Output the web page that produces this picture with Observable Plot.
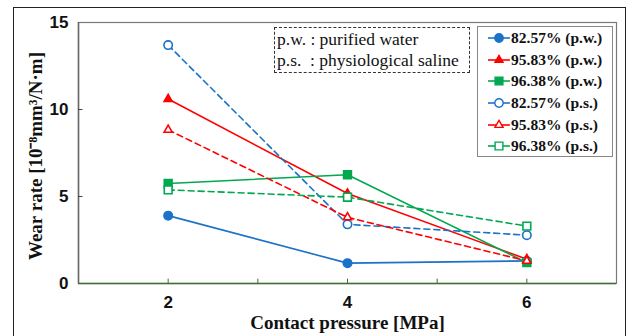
<!DOCTYPE html>
<html>
<head>
<meta charset="utf-8">
<script src="https://cdn.jsdelivr.net/npm/d3@7"></script>
<script src="https://cdn.jsdelivr.net/npm/@observablehq/plot@0.6"></script>
<style>
  body { margin: 0; background: #fff; }
</style>
</head>
<body>
<div id="wrap" style="position:relative;width:632px;height:336px;overflow:hidden;"></div>
<script>
// ---- data ----
const pressures = [2, 4, 6];
const seriesNames = ["82.57% (p.w.)", "95.83% (p.w.)", "96.38% (p.w.)", "82.57% (p.s.)", "95.83% (p.s.)", "96.38% (p.s.)"];
const pw8257 = [3.9, 1.17, 1.3];
const pw9583 = [10.6, 5.17, 1.4];
const pw9638 = [5.75, 6.25, 1.2];
const ps8257 = [13.7, 3.4, 2.78];
const ps9583 = [8.83, 3.8, 1.3];
const ps9638 = [5.38, 4.96, 3.3];
const yTicks = [0, 5, 10, 15];
const xTicks = [2, 4, 6];
const xMinor = [2, 3, 4, 5, 6];
const noteLines = ["p.w. : purified water", "p.s.\u00a0\u00a0: physiological saline"];

// ---- styles ----
const SERIF = "'Liberation Serif', 'Times New Roman', serif";
const SANS = "'Liberation Sans', Arial, sans-serif";
const colors = ["#1a72c9", "#ff0000", "#00a84f", "#1a72c9", "#ff0000", "#00a84f"];
const symbols = ["circle", "triangle", "square", "circle", "triangle", "square"];
const radius = {circle: 4.2, triangle: 3.0, square: 4.4};
const filled = [true, true, true, false, false, false];
const dashed = [false, false, false, true, true, true];
const valuesList = [pw8257, pw9583, pw9638, ps8257, ps9583, ps9638];

const rows = [];
seriesNames.forEach((s, i) => pressures.forEach((p, j) => rows.push({series: s, idx: i, x: p, y: valuesList[i][j]})));

const marks = [
  Plot.frame({stroke: "#7a7a7a", strokeWidth: 1.2}),
  Plot.ruleY([0], {stroke: "#3f6e35", strokeWidth: 1.5}),
  Plot.ruleX([1], {stroke: "#666", strokeWidth: 1.5}),
  Plot.ruleY(yTicks.slice(1, -1), {x1: 1, x2: 1.05, stroke: "#444"}),
  Plot.ruleX(xMinor, {y1: 0, y2: 0.25, stroke: "#3f6e35"}),
  Plot.axisY(yTicks, {tickSize: 0, tickPadding: 10, fontSize: 17, fontWeight: "bold", fontFamily: SANS, fill: "#111", label: null}),
  Plot.axisX(xTicks, {tickSize: 0, tickPadding: 12, fontSize: 17, fontWeight: "bold", fontFamily: SANS, fill: "#111", label: null}),
  Plot.text(["Contact pressure [MPa]"], {frameAnchor: "bottom", dy: 39, lineAnchor: "middle", textAnchor: "middle", fontSize: 19, fontWeight: "bold", fontFamily: SERIF, fill: "#111"}),
  Plot.text(["Wear rate [10\u207B\u2078mm\u00B3/N\u00B7m]"], {frameAnchor: "left", dx: -43, dy: 3, rotate: -90, textAnchor: "middle", lineAnchor: "middle", fontSize: 19, fontWeight: "bold", fontFamily: SERIF, fill: "#111"})
];
seriesNames.forEach((s, i) => {
  const d = rows.filter(r => r.idx === i);
  marks.push(Plot.line(d, {x: "x", y: "y", stroke: colors[i], strokeWidth: 1.6, strokeDasharray: dashed[i] ? "6,4" : null}));
});
seriesNames.forEach((s, i) => {
  const d = rows.filter(r => r.idx === i);
  marks.push(Plot.dot(d, {x: "x", y: "y", symbol: symbols[i], r: radius[symbols[i]],
    fill: filled[i] ? colors[i] : "#fff", stroke: colors[i], strokeWidth: 1.6}));
});

const chart = Plot.plot({
  width: 632, height: 336,
  marginLeft: 78, marginRight: 16, marginTop: 22, marginBottom: 53,
  x: {domain: [1, 7], axis: null},
  y: {domain: [0, 15], axis: null},
  style: {background: "#fff", overflow: "visible"},
  marks
});
const wrap = document.getElementById("wrap");
wrap.appendChild(chart);

const outer = document.createElement("div");
outer.style.cssText = "position:absolute;left:13px;top:7px;width:611px;height:340px;border:1.5px solid #222;pointer-events:none;";
wrap.appendChild(outer);

const note = document.createElement("div");
note.style.cssText = `position:absolute;left:274px;top:27px;width:196px;height:46px;border:1px dashed #333;background:#fff;font-family:${SERIF};font-size:17.5px;line-height:21px;padding:1px 0 0 2px;box-sizing:border-box;white-space:nowrap;color:#111;`;
note.innerHTML = noteLines.map(t => `<div>${t}</div>`).join("");
wrap.appendChild(note);

const legend = document.createElement("div");
legend.style.cssText = `position:absolute;left:477px;top:26px;width:136px;height:131px;border:1.5px solid #888;background:#fff;box-sizing:border-box;font-family:${SERIF};font-weight:bold;font-size:15.5px;padding-top:0px;color:#111;`;
const symPath = {circle: d3.symbolCircle, triangle: d3.symbolTriangle, square: d3.symbolSquare};
seriesNames.forEach((s, i) => {
  const r = radius[symbols[i]];
  const path = d3.symbol(symPath[symbols[i]], Math.PI * r * r)();
  const row = document.createElement("div");
  row.style.cssText = "display:flex;align-items:center;height:21.7px;white-space:nowrap;";
  row.innerHTML = `<svg width="22" height="14" viewBox="0 0 22 14" style="margin-left:10px;margin-right:1px;overflow:visible"><line x1="0" x2="22" y1="7" y2="7" stroke="${colors[i]}" stroke-width="1.6"/>` +
    `<path d="${path}" transform="translate(11,7)" fill="${filled[i] ? colors[i] : '#fff'}" stroke="${colors[i]}" stroke-width="1.4"/></svg><span>${s}</span>`;
  legend.appendChild(row);
});
wrap.appendChild(legend);
</script>
</body>
</html>
